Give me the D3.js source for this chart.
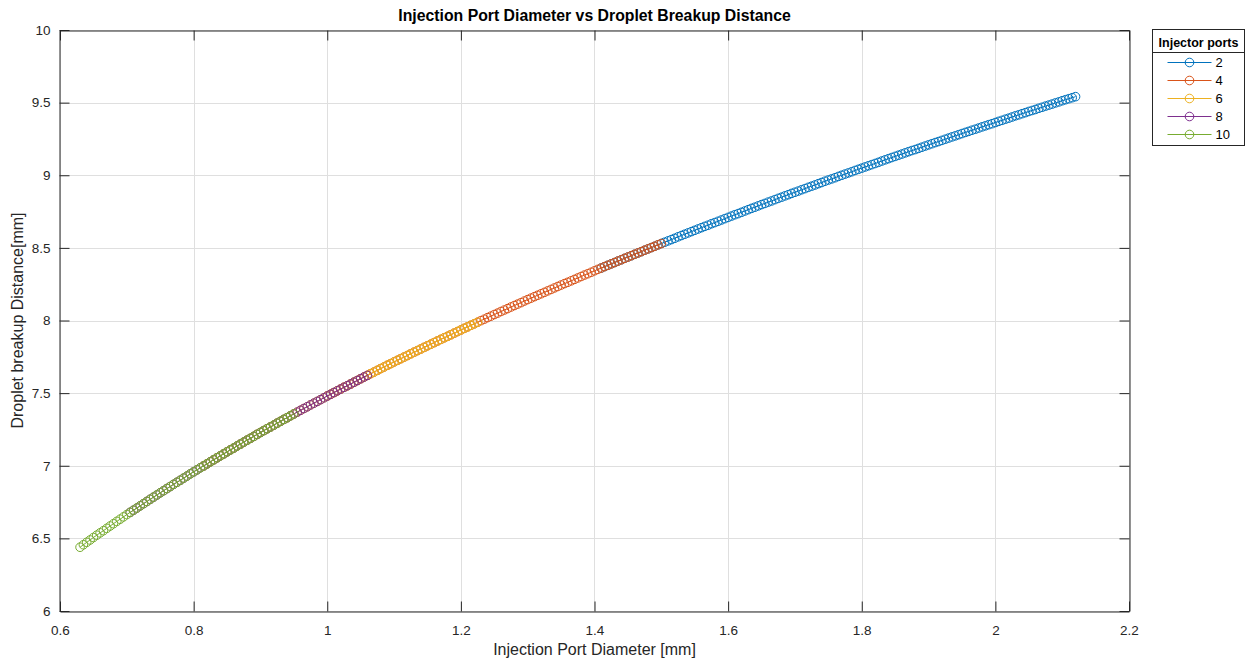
<!DOCTYPE html>
<html><head><meta charset="utf-8">
<script src="https://cdn.jsdelivr.net/npm/d3@7"></script>
<style>
body{margin:0;background:#fff;}
text{font-family:"Liberation Sans",Arial,Helvetica,sans-serif;}
</style>
</head><body>
<svg id="chart" width="1250" height="660"></svg>
<script>
// ---- data (diameter [mm] vs breakup distance [mm]) ----
const diam2 = [1.410,1.415,1.420,1.425,1.430,1.435,1.440,1.445,1.450,
1.455,1.460,1.465,1.470,1.475,1.480,1.485,1.490,1.495,1.500,
1.505,1.510,1.515,1.520,1.525,1.530,1.535,1.540,1.545,1.550,
1.555,1.560,1.565,1.570,1.575,1.580,1.585,1.590,1.595,1.600,
1.605,1.610,1.615,1.620,1.625,1.630,1.635,1.640,1.645,1.650,
1.655,1.660,1.665,1.670,1.675,1.680,1.685,1.690,1.695,1.700,
1.705,1.710,1.715,1.720,1.725,1.730,1.735,1.740,1.745,1.750,
1.755,1.760,1.765,1.770,1.775,1.780,1.785,1.790,1.795,1.800,
1.805,1.810,1.815,1.820,1.825,1.830,1.835,1.840,1.845,1.850,
1.855,1.860,1.865,1.870,1.875,1.880,1.885,1.890,1.895,1.900,
1.905,1.910,1.915,1.920,1.925,1.930,1.935,1.940,1.945,1.950,
1.955,1.960,1.965,1.970,1.975,1.980,1.985,1.990,1.995,2.000,
2.005,2.010,2.015,2.020,2.025,2.030,2.035,2.040,2.045,2.050,
2.055,2.060,2.065,2.070,2.075,2.080,2.085,2.090,2.095,2.100,
2.105,2.110,2.115,2.120];
const dist2 = [8.361,8.371,8.380,8.390,8.399,8.409,8.418,8.428,8.437,
8.446,8.456,8.465,8.474,8.484,8.493,8.502,8.511,8.521,8.530,
8.539,8.548,8.557,8.566,8.576,8.585,8.594,8.603,8.612,8.621,
8.630,8.639,8.648,8.656,8.666,8.674,8.683,8.692,8.701,8.710,
8.719,8.728,8.736,8.745,8.754,8.763,8.772,8.780,8.789,8.798,
8.806,8.815,8.823,8.832,8.841,8.849,8.858,8.866,8.875,8.883,
8.891,8.900,8.908,8.917,8.925,8.933,8.942,8.950,8.959,8.967,
8.975,8.983,8.992,9.000,9.008,9.016,9.024,9.033,9.041,9.049,
9.057,9.065,9.073,9.081,9.089,9.098,9.106,9.114,9.122,9.130,
9.138,9.146,9.154,9.162,9.170,9.177,9.185,9.193,9.201,9.209,
9.217,9.225,9.232,9.240,9.248,9.256,9.264,9.271,9.279,9.287,
9.295,9.302,9.310,9.317,9.325,9.333,9.340,9.348,9.355,9.363,
9.371,9.378,9.386,9.393,9.401,9.409,9.416,9.424,9.431,9.439,
9.446,9.453,9.461,9.468,9.476,9.483,9.490,9.498,9.505,9.513,
9.520,9.527,9.534,9.541];

const diam4 = [1.000,
1.005,1.010,1.015,1.020,1.025,1.030,1.035,1.040,1.045,1.050,
1.055,1.060,1.065,1.070,1.075,1.080,1.085,1.090,1.095,1.100,
1.105,1.110,1.115,1.120,1.125,1.130,1.135,1.140,1.145,1.150,
1.155,1.160,1.165,1.170,1.175,1.180,1.185,1.190,1.195,1.200,
1.205,1.210,1.215,1.220,1.225,1.230,1.235,1.240,1.245,1.250,
1.255,1.260,1.265,1.270,1.275,1.280,1.285,1.290,1.295,1.300,
1.305,1.310,1.315,1.320,1.325,1.330,1.335,1.340,1.345,1.350,
1.355,1.360,1.365,1.370,1.375,1.380,1.385,1.390,1.395,1.400,
1.405,1.410,1.415,1.420,1.425,1.430,1.435,1.440,1.445,1.450,
1.455,1.460,1.465,1.470,1.475,1.480,1.485,1.490,1.495,1.500];
const dist4 = [7.480,
7.492,7.504,7.516,7.528,7.540,7.551,7.563,7.575,7.587,7.599,
7.611,7.622,7.634,7.645,7.657,7.669,7.680,7.692,7.703,7.715,
7.726,7.737,7.748,7.759,7.771,7.782,7.793,7.804,7.815,7.826,
7.837,7.848,7.859,7.870,7.881,7.891,7.902,7.913,7.924,7.935,
7.946,7.956,7.967,7.977,7.988,7.999,8.009,8.020,8.030,8.041,
8.051,8.062,8.072,8.082,8.093,8.103,8.113,8.123,8.134,8.144,
8.154,8.164,8.174,8.184,8.194,8.204,8.214,8.224,8.234,8.244,
8.254,8.263,8.273,8.283,8.293,8.303,8.313,8.322,8.332,8.342,
8.352,8.361,8.371,8.380,8.390,8.399,8.409,8.418,8.428,8.437,
8.446,8.456,8.465,8.474,8.484,8.493,8.502,8.511,8.521,8.530];

const diam6 = [0.815,0.820,0.825,0.830,0.835,0.840,0.845,0.850,
0.855,0.860,0.865,0.870,0.875,0.880,0.885,0.890,0.895,0.900,
0.905,0.910,0.915,0.920,0.925,0.930,0.935,0.940,0.945,0.950,
0.955,0.960,0.965,0.970,0.975,0.980,0.985,0.990,0.995,1.000,
1.005,1.010,1.015,1.020,1.025,1.030,1.035,1.040,1.045,1.050,
1.055,1.060,1.065,1.070,1.075,1.080,1.085,1.090,1.095,1.100,
1.105,1.110,1.115,1.120,1.125,1.130,1.135,1.140,1.145,1.150,
1.155,1.160,1.165,1.170,1.175,1.180,1.185,1.190,1.195,1.200,
1.205,1.210,1.215,1.220,1.225];
const dist6 = [6.999,7.013,7.027,7.041,7.055,7.068,7.082,7.096,
7.109,7.122,7.136,7.149,7.163,7.176,7.189,7.202,7.216,7.229,
7.242,7.255,7.267,7.280,7.293,7.306,7.319,7.331,7.344,7.357,
7.369,7.382,7.394,7.406,7.419,7.431,7.443,7.455,7.468,7.480,
7.492,7.504,7.516,7.528,7.540,7.551,7.563,7.575,7.587,7.599,
7.611,7.622,7.634,7.645,7.657,7.669,7.680,7.692,7.703,7.715,
7.726,7.737,7.748,7.759,7.771,7.782,7.793,7.804,7.815,7.826,
7.837,7.848,7.859,7.870,7.881,7.891,7.902,7.913,7.924,7.935,
7.946,7.956,7.967,7.977,7.988];

const diam8 = [0.705,0.710,0.715,0.720,0.725,0.730,0.735,0.740,0.745,0.750,
0.755,0.760,0.765,0.770,0.775,0.780,0.785,0.790,0.795,0.800,
0.805,0.810,0.815,0.820,0.825,0.830,0.835,0.840,0.845,0.850,
0.855,0.860,0.865,0.870,0.875,0.880,0.885,0.890,0.895,0.900,
0.905,0.910,0.915,0.920,0.925,0.930,0.935,0.940,0.945,0.950,
0.955,0.960,0.965,0.970,0.975,0.980,0.985,0.990,0.995,1.000,
1.005,1.010,1.015,1.020,1.025,1.030,1.035,1.040,1.045,1.050,
1.055,1.060];
const dist8 = [6.679,6.694,6.709,6.724,6.739,6.754,6.769,6.784,6.799,6.814,
6.828,6.843,6.857,6.872,6.886,6.900,6.915,6.929,6.944,6.958,
6.972,6.986,6.999,7.013,7.027,7.041,7.055,7.068,7.082,7.096,
7.109,7.122,7.136,7.149,7.163,7.176,7.189,7.202,7.216,7.229,
7.242,7.255,7.267,7.280,7.293,7.306,7.319,7.331,7.344,7.357,
7.369,7.382,7.394,7.406,7.419,7.431,7.443,7.455,7.468,7.480,
7.492,7.504,7.516,7.528,7.540,7.551,7.563,7.575,7.587,7.599,
7.611,7.622];

const diam10 = [0.630,0.635,0.640,0.645,0.650,
0.655,0.660,0.665,0.670,0.675,0.680,0.685,0.690,0.695,0.700,
0.705,0.710,0.715,0.720,0.725,0.730,0.735,0.740,0.745,0.750,
0.755,0.760,0.765,0.770,0.775,0.780,0.785,0.790,0.795,0.800,
0.805,0.810,0.815,0.820,0.825,0.830,0.835,0.840,0.845,0.850,
0.855,0.860,0.865,0.870,0.875,0.880,0.885,0.890,0.895,0.900,
0.905,0.910,0.915,0.920,0.925,0.930,0.935,0.940,0.945,0.950];
const dist10 = [6.439,6.456,6.473,6.489,6.506,
6.522,6.538,6.553,6.569,6.585,6.601,6.617,6.632,6.648,6.664,
6.679,6.694,6.709,6.724,6.739,6.754,6.769,6.784,6.799,6.814,
6.828,6.843,6.857,6.872,6.886,6.900,6.915,6.929,6.944,6.958,
6.972,6.986,6.999,7.013,7.027,7.041,7.055,7.068,7.082,7.096,
7.109,7.122,7.136,7.149,7.163,7.176,7.189,7.202,7.216,7.229,
7.242,7.255,7.267,7.280,7.293,7.306,7.319,7.331,7.344,7.357];

const seriesNames = ["2","4","6","8","10"];
const seriesColors = ["#0072BD","#D95319","#EDB120","#7E2F8E","#77AC30"];
const xTicks = [0.6,0.8,1.0,1.2,1.4,1.6,1.8,2.0,2.2];
const yTicks = [6,6.5,7,7.5,8,8.5,9,9.5,10];
const titleText = "Injection Port Diameter vs Droplet Breakup Distance";
const xLabelText = "Injection Port Diameter [mm]";
const yLabelText = "Droplet breakup Distance[mm]";
const legendTitle = "Injector ports";

const seriesX = [diam2, diam4, diam6, diam8, diam10];
const seriesY = [dist2, dist4, dist6, dist8, dist10];

// ---- layout ----
const L = 60, R = 1129, T = 30, B = 611;
const axisColor = "#262626";
const svg = d3.select("#chart");
const x = d3.scaleLinear().domain([0.6, 2.2]).range([L, R]);
const y = d3.scaleLinear().domain([6, 10]).range([B, T]);

// grid
const grid = svg.append("g");
grid.selectAll("line.gx").data(xTicks).join("line")
  .attr("x1", d => Math.round(x(d)) + 0.5).attr("x2", d => Math.round(x(d)) + 0.5)
  .attr("y1", T).attr("y2", B).attr("stroke", "#dfdfdf").attr("stroke-width", 1);
grid.selectAll("line.gy").data(yTicks).join("line")
  .attr("y1", d => Math.round(y(d)) + 0.5).attr("y2", d => Math.round(y(d)) + 0.5)
  .attr("x1", L).attr("x2", R).attr("stroke", "#dfdfdf").attr("stroke-width", 1);

// series
const line = d3.line().x(d => x(d[0])).y(d => y(d[1]));
seriesNames.forEach((name, i) => {
  const pts = seriesX[i].map((v, k) => [v, seriesY[i][k]]);
  const g = svg.append("g");
  g.append("path").datum(pts).attr("d", line)
    .attr("fill", "none").attr("stroke", seriesColors[i]).attr("stroke-width", 1);
  g.selectAll("circle").data(pts).join("circle")
    .attr("cx", d => x(d[0])).attr("cy", d => y(d[1])).attr("r", 4.3)
    .attr("fill", "none").attr("stroke", seriesColors[i]).attr("stroke-width", 1);
});

// axes (ticks inside, MATLAB style)
const fmt = d => String(+d.toFixed(1));
function styleAxis(g) {
  g.selectAll("path").attr("stroke", axisColor).attr("stroke-width", 1);
  g.selectAll("line").attr("stroke", axisColor).attr("stroke-width", 1);
  g.selectAll("text").attr("fill", axisColor).style("font-size", "13.5px")
    .style("font-family", '"Liberation Sans",Arial,sans-serif');
}
svg.append("g").attr("transform", `translate(0,${B + 0.5})`)
  .call(d3.axisBottom(x).tickValues(xTicks).tickFormat(fmt).tickSizeInner(-10).tickSizeOuter(0).tickPadding(14))
  .call(styleAxis);
svg.append("g").attr("transform", `translate(0,${T + 0.5})`)
  .call(d3.axisTop(x).tickValues(xTicks).tickFormat("").tickSizeInner(-10).tickSizeOuter(0))
  .call(styleAxis);
svg.append("g").attr("transform", `translate(${L - 0.5},0)`)
  .call(d3.axisLeft(y).tickValues(yTicks).tickFormat(fmt).tickSizeInner(-10).tickSizeOuter(0).tickPadding(9))
  .call(styleAxis);
svg.append("g").attr("transform", `translate(${R + 0.5},0)`)
  .call(d3.axisRight(y).tickValues(yTicks).tickFormat("").tickSizeInner(-10).tickSizeOuter(0))
  .call(styleAxis);

// title & labels
svg.append("text").attr("x", (L + R) / 2).attr("y", 21).attr("text-anchor", "middle")
  .style("font-size", "15.8px").style("font-weight", "bold").attr("fill", "#000").text(titleText);
svg.append("text").attr("x", (L + R) / 2).attr("y", 655).attr("text-anchor", "middle")
  .style("font-size", "16px").attr("fill", axisColor).text(xLabelText);
svg.append("text").attr("transform", `translate(23,${(T + B) / 2}) rotate(-90)`).attr("text-anchor", "middle")
  .style("font-size", "16px").attr("fill", axisColor).text(yLabelText);

// legend
const lg = svg.append("g").attr("transform", "translate(1152.5,29.5)");
lg.append("rect").attr("width", 92).attr("height", 116).attr("fill", "#fff")
  .attr("stroke", axisColor).attr("stroke-width", 1);
lg.append("text").attr("x", 46).attr("y", 17).attr("text-anchor", "middle")
  .style("font-size", "12.5px").style("font-weight", "bold").attr("fill", "#000").text(legendTitle);
lg.append("line").attr("x1", 0).attr("x2", 92).attr("y1", 23).attr("y2", 23)
  .attr("stroke", axisColor).attr("stroke-width", 1);
seriesNames.forEach((name, i) => {
  const yy = 33 + i * 18;
  lg.append("line").attr("x1", 15).attr("x2", 59).attr("y1", yy).attr("y2", yy)
    .attr("stroke", seriesColors[i]).attr("stroke-width", 1);
  lg.append("circle").attr("cx", 37).attr("cy", yy).attr("r", 4.3).attr("fill", "none")
    .attr("stroke", seriesColors[i]).attr("stroke-width", 1);
  lg.append("text").attr("x", 63).attr("y", yy).attr("dy", "0.35em")
    .style("font-size", "13px").attr("fill", "#000").text(name);
});
</script>
</body></html>
